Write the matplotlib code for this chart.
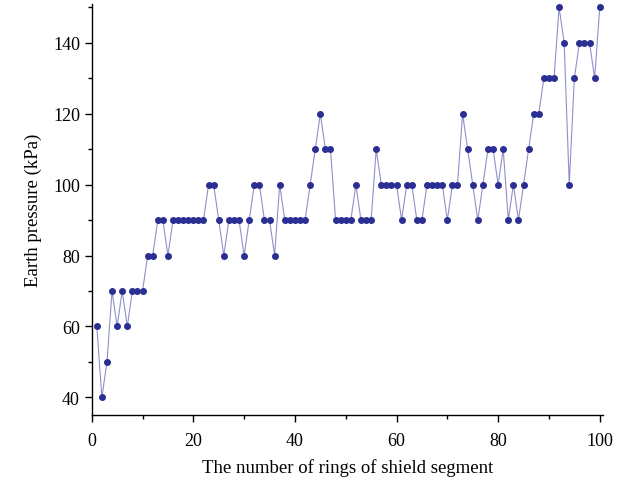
import numpy as np
import matplotlib as mpl
mpl.use("Agg")
from matplotlib import pyplot as plt
from matplotlib.ticker import MultipleLocator

# Rings of shield segment and measured earth pressure (kPa)
rings = list(range(1, 101))
pressure = [60, 40, 50, 70, 60, 70, 60, 70, 70, 70,
            80, 80, 90, 90, 80, 90, 90, 90, 90, 90,
            90, 90, 100, 100, 90, 80, 90, 90, 90, 80,
            90, 100, 100, 90, 90, 80, 100, 90, 90, 90,
            90, 90, 100, 110, 120, 110, 110, 90, 90, 90,
            90, 100, 90, 90, 90, 110, 100, 100, 100, 100,
            90, 100, 100, 90, 90, 100, 100, 100, 100, 90,
            100, 100, 120, 110, 100, 90, 100, 110, 110, 100,
            110, 90, 100, 90, 100, 110, 120, 120, 130, 130,
            130, 150, 140, 100, 130, 140, 140, 140, 130, 150]

plt.rcParams["font.family"] = ["Liberation Serif", "DejaVu Serif"]

fig = plt.figure(figsize=(6.24, 4.85), dpi=100)
ax = fig.add_axes((0.147, 0.142, 0.819, 0.848))

ax.plot(rings, pressure, color="#8f8fcc", lw=0.8,
        marker="o", ms=4.0, mfc="#2b2f93", mec="#2b2f93", zorder=3)

ax.set_xlim(0, 100.6)
ax.set_ylim(35, 151)
ax.xaxis.set_major_locator(MultipleLocator(20))
ax.xaxis.set_minor_locator(MultipleLocator(10))
ax.yaxis.set_major_locator(MultipleLocator(20))
ax.yaxis.set_minor_locator(MultipleLocator(10))

for side in ("top", "right"):
    ax.spines[side].set_visible(False)
for side in ("left", "bottom"):
    ax.spines[side].set_linewidth(1.0)

ax.tick_params(which="major", direction="out", length=5, width=1, labelsize=13)
ax.tick_params(axis="x", which="major", pad=7)
ax.tick_params(which="minor", direction="out", length=3, width=1)

ax.set_xlabel("The number of rings of shield segment", fontsize=13.5, labelpad=7)
ax.set_ylabel("Earth pressure (kPa)", fontsize=13.5, labelpad=8)

fig.savefig("out.png", dpi=100)
